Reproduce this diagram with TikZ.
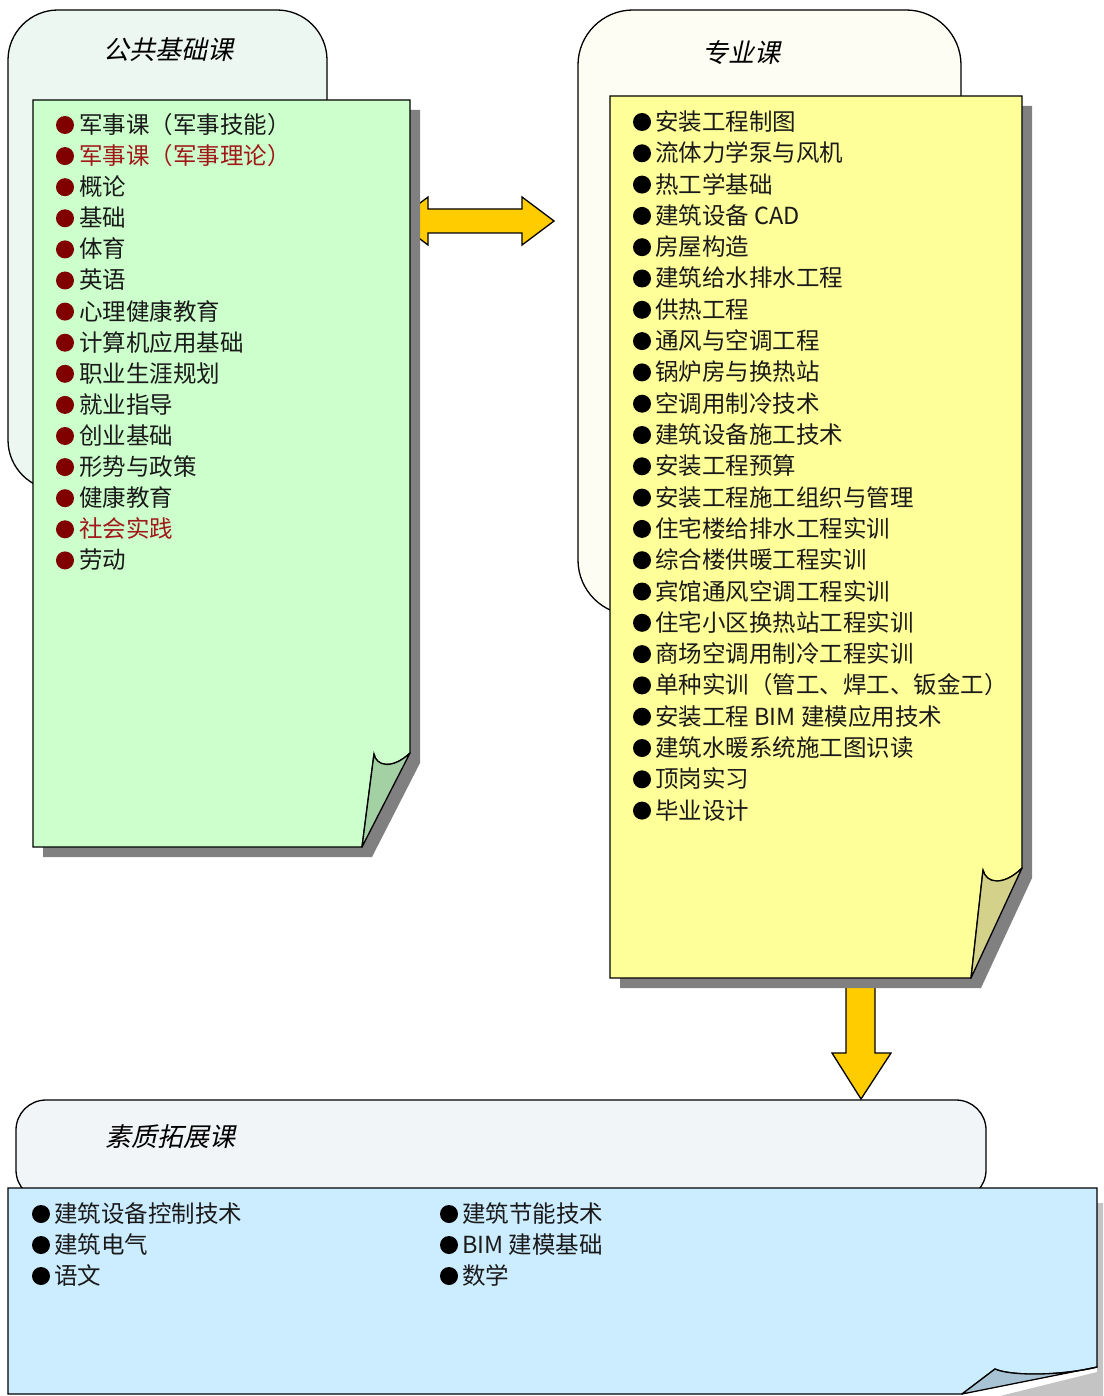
\documentclass[tikz,border=0pt]{standalone}
\usepackage{fontspec}
\setmainfont{Noto Sans CJK SC}
\newfontfamily\titlefont[FakeSlant=0.22]{Noto Sans CJK SC}
\definecolor{tabgreen}{HTML}{EDF7F2}
\definecolor{tabcream}{HTML}{FDFDF3}
\definecolor{tabblue}{HTML}{F1F5F8}
\definecolor{pagegreen}{HTML}{CCFFCC}
\definecolor{flapgreen}{HTML}{A3D1A3}
\definecolor{pageyellow}{HTML}{FFFF99}
\definecolor{flapyellow}{HTML}{D4D28A}
\definecolor{pageblue}{HTML}{CCECFF}
\definecolor{flapblue}{HTML}{A8C3D3}
\definecolor{shadowgray}{HTML}{808080}
\definecolor{shadowlight}{HTML}{C4C4C4}
\definecolor{arrowgold}{HTML}{FFCC00}
\definecolor{bulletred}{HTML}{800000}
\definecolor{textred}{HTML}{A01818}
\definecolor{textdark}{HTML}{1A1A1A}
\tikzset{
  tabbox/.style={draw=black, line width=1.3pt},
  pagebox/.style={draw=black, line width=1.3pt},
  blockarrow/.style={draw=black, line width=1.3pt, fill=arrowgold, line join=miter},
  itemtext/.style={anchor=base west, inner sep=0pt, font=\fontsize{23.5}{27}\selectfont, text=textdark},
  titletext/.style={inner sep=0pt, font=\titlefont\fontsize{26}{30}\selectfont}
}
\begin{document}
\begin{tikzpicture}[x=1pt,y=-1pt]
\useasboundingbox (0,0) rectangle (1103,1396);
\fill[white] (0,0) rectangle (1103,1396);

% ---- tabs ----
\draw[tabbox, fill=tabgreen, rounded corners=50pt] (8,10) rectangle (327,490);
\draw[tabbox, fill=tabcream, rounded corners=55pt] (578,10) rectangle (961,615);
\draw[tabbox, fill=tabblue, rounded corners=30pt] (16,1100) rectangle (986,1200);

\node[titletext] (t1) at (168,50) {公共基础课};
\node[titletext] (t2) at (741,53) {专业课};
\node[titletext] (t3) at (170,1137) {素质拓展课};

% ---- named anchor points ----
\coordinate (gEast) at (396,221);
\coordinate (yWest) at (554,221);
\coordinate (ySouth) at (861,985);
\coordinate (bNorth) at (861,1099);

% ---- arrows ----
\draw[blockarrow] (yWest) -- (522,197) -- (522,209) -- (428,209) -- (428,197) -- (gEast)
  -- (428,245) -- (428,233) -- (522,233) -- (522,245) -- cycle;
\draw[blockarrow] (846,985) -- (846,1053) -- (832,1053) -- (bNorth) -- (891,1053) -- (875,1053) -- (875,985) -- cycle;

% ---- green page ----
\fill[shadowgray] (43,110) -- (420,110) -- (420,763) -- (372,857) -- (43,857) -- cycle;
\draw[pagebox, fill=pagegreen] (33,100) -- (410,100) -- (410,753)
  .. controls (392,770) and (376,766) .. (374,754) -- (362,847) -- (33,847) -- cycle;
\draw[pagebox, fill=flapgreen, line join=round] (374,754) .. controls (376,766) and (392,770) .. (410,753) -- (362,847) -- cycle;

% ---- yellow page ----
\fill[shadowgray] (620,106) -- (1032,106) -- (1032,878) -- (981,988) -- (620,988) -- cycle;
\draw[pagebox, fill=pageyellow] (610,96) -- (1022,96) -- (1022,868)
  .. controls (1004,886) and (986,884) .. (983,870) -- (971,978) -- (610,978) -- cycle;
\draw[pagebox, fill=flapyellow, line join=round] (983,870) .. controls (986,884) and (1004,886) .. (1022,868) -- (971,978) -- cycle;

% ---- blue page ----
\fill[shadowlight] (1097,1203) -- (1103,1203) -- (1103,1396) -- (1000,1396) -- (1097,1372) -- cycle;
\draw[pagebox, fill=pageblue] (8,1188) -- (1097,1188) -- (1097,1367)
  .. controls (1060,1376) and (1010,1376) .. (995,1369) -- (962,1394) -- (8,1394) -- cycle;
\draw[pagebox, fill=flapblue, line join=round] (995,1369) .. controls (1010,1376) and (1060,1376) .. (1097,1367) -- (962,1394) -- cycle;

% ---- left list ----
\foreach [count=\i] \t/\c in {军事课（军事技能）/textdark, 军事课（军事理论）/textred, 概论/textdark, 基础/textdark, 体育/textdark, 英语/textdark, 心理健康教育/textdark, 计算机应用基础/textdark, 职业生涯规划/textdark, 就业指导/textdark, 创业基础/textdark, 形势与政策/textdark, 健康教育/textdark, 社会实践/textred, 劳动/textdark} {
  \fill[bulletred] (65,{125+31.1*(\i-1)}) circle (9pt);
  \node[itemtext, text=\c] (g\i) at (79,{133.5+31.1*(\i-1)}) {\t};
}

% ---- right list ----
\foreach [count=\i] \t in {安装工程制图, 流体力学泵与风机, 热工学基础, 建筑设备 CAD, 房屋构造, 建筑给水排水工程, 供热工程, 通风与空调工程, 锅炉房与换热站, 空调用制冷技术, 建筑设备施工技术, 安装工程预算, 安装工程施工组织与管理, 住宅楼给排水工程实训, 综合楼供暖工程实训, 宾馆通风空调工程实训, 住宅小区换热站工程实训, 商场空调用制冷工程实训, 单种实训（管工、焊工、钣金工）, 安装工程 BIM 建模应用技术, 建筑水暖系统施工图识读, 顶岗实习, 毕业设计} {
  \fill[black] (642,{122+31.3*(\i-1)}) circle (9pt);
  \node[itemtext] (y\i) at (655,{130.5+31.3*(\i-1)}) {\t};
}

% ---- bottom list ----
\foreach [count=\i] \t in {建筑设备控制技术, 建筑电气, 语文} {
  \fill[black] (41,{1214+31*(\i-1)}) circle (9pt);
  \node[itemtext] (ba\i) at (54,{1222.5+31*(\i-1)}) {\t};
}
\foreach [count=\i] \t in {建筑节能技术, BIM 建模基础, 数学} {
  \fill[black] (449,{1214+31*(\i-1)}) circle (9pt);
  \node[itemtext] (bb\i) at (462,{1222.5+31*(\i-1)}) {\t};
}
\end{tikzpicture}
\end{document}
